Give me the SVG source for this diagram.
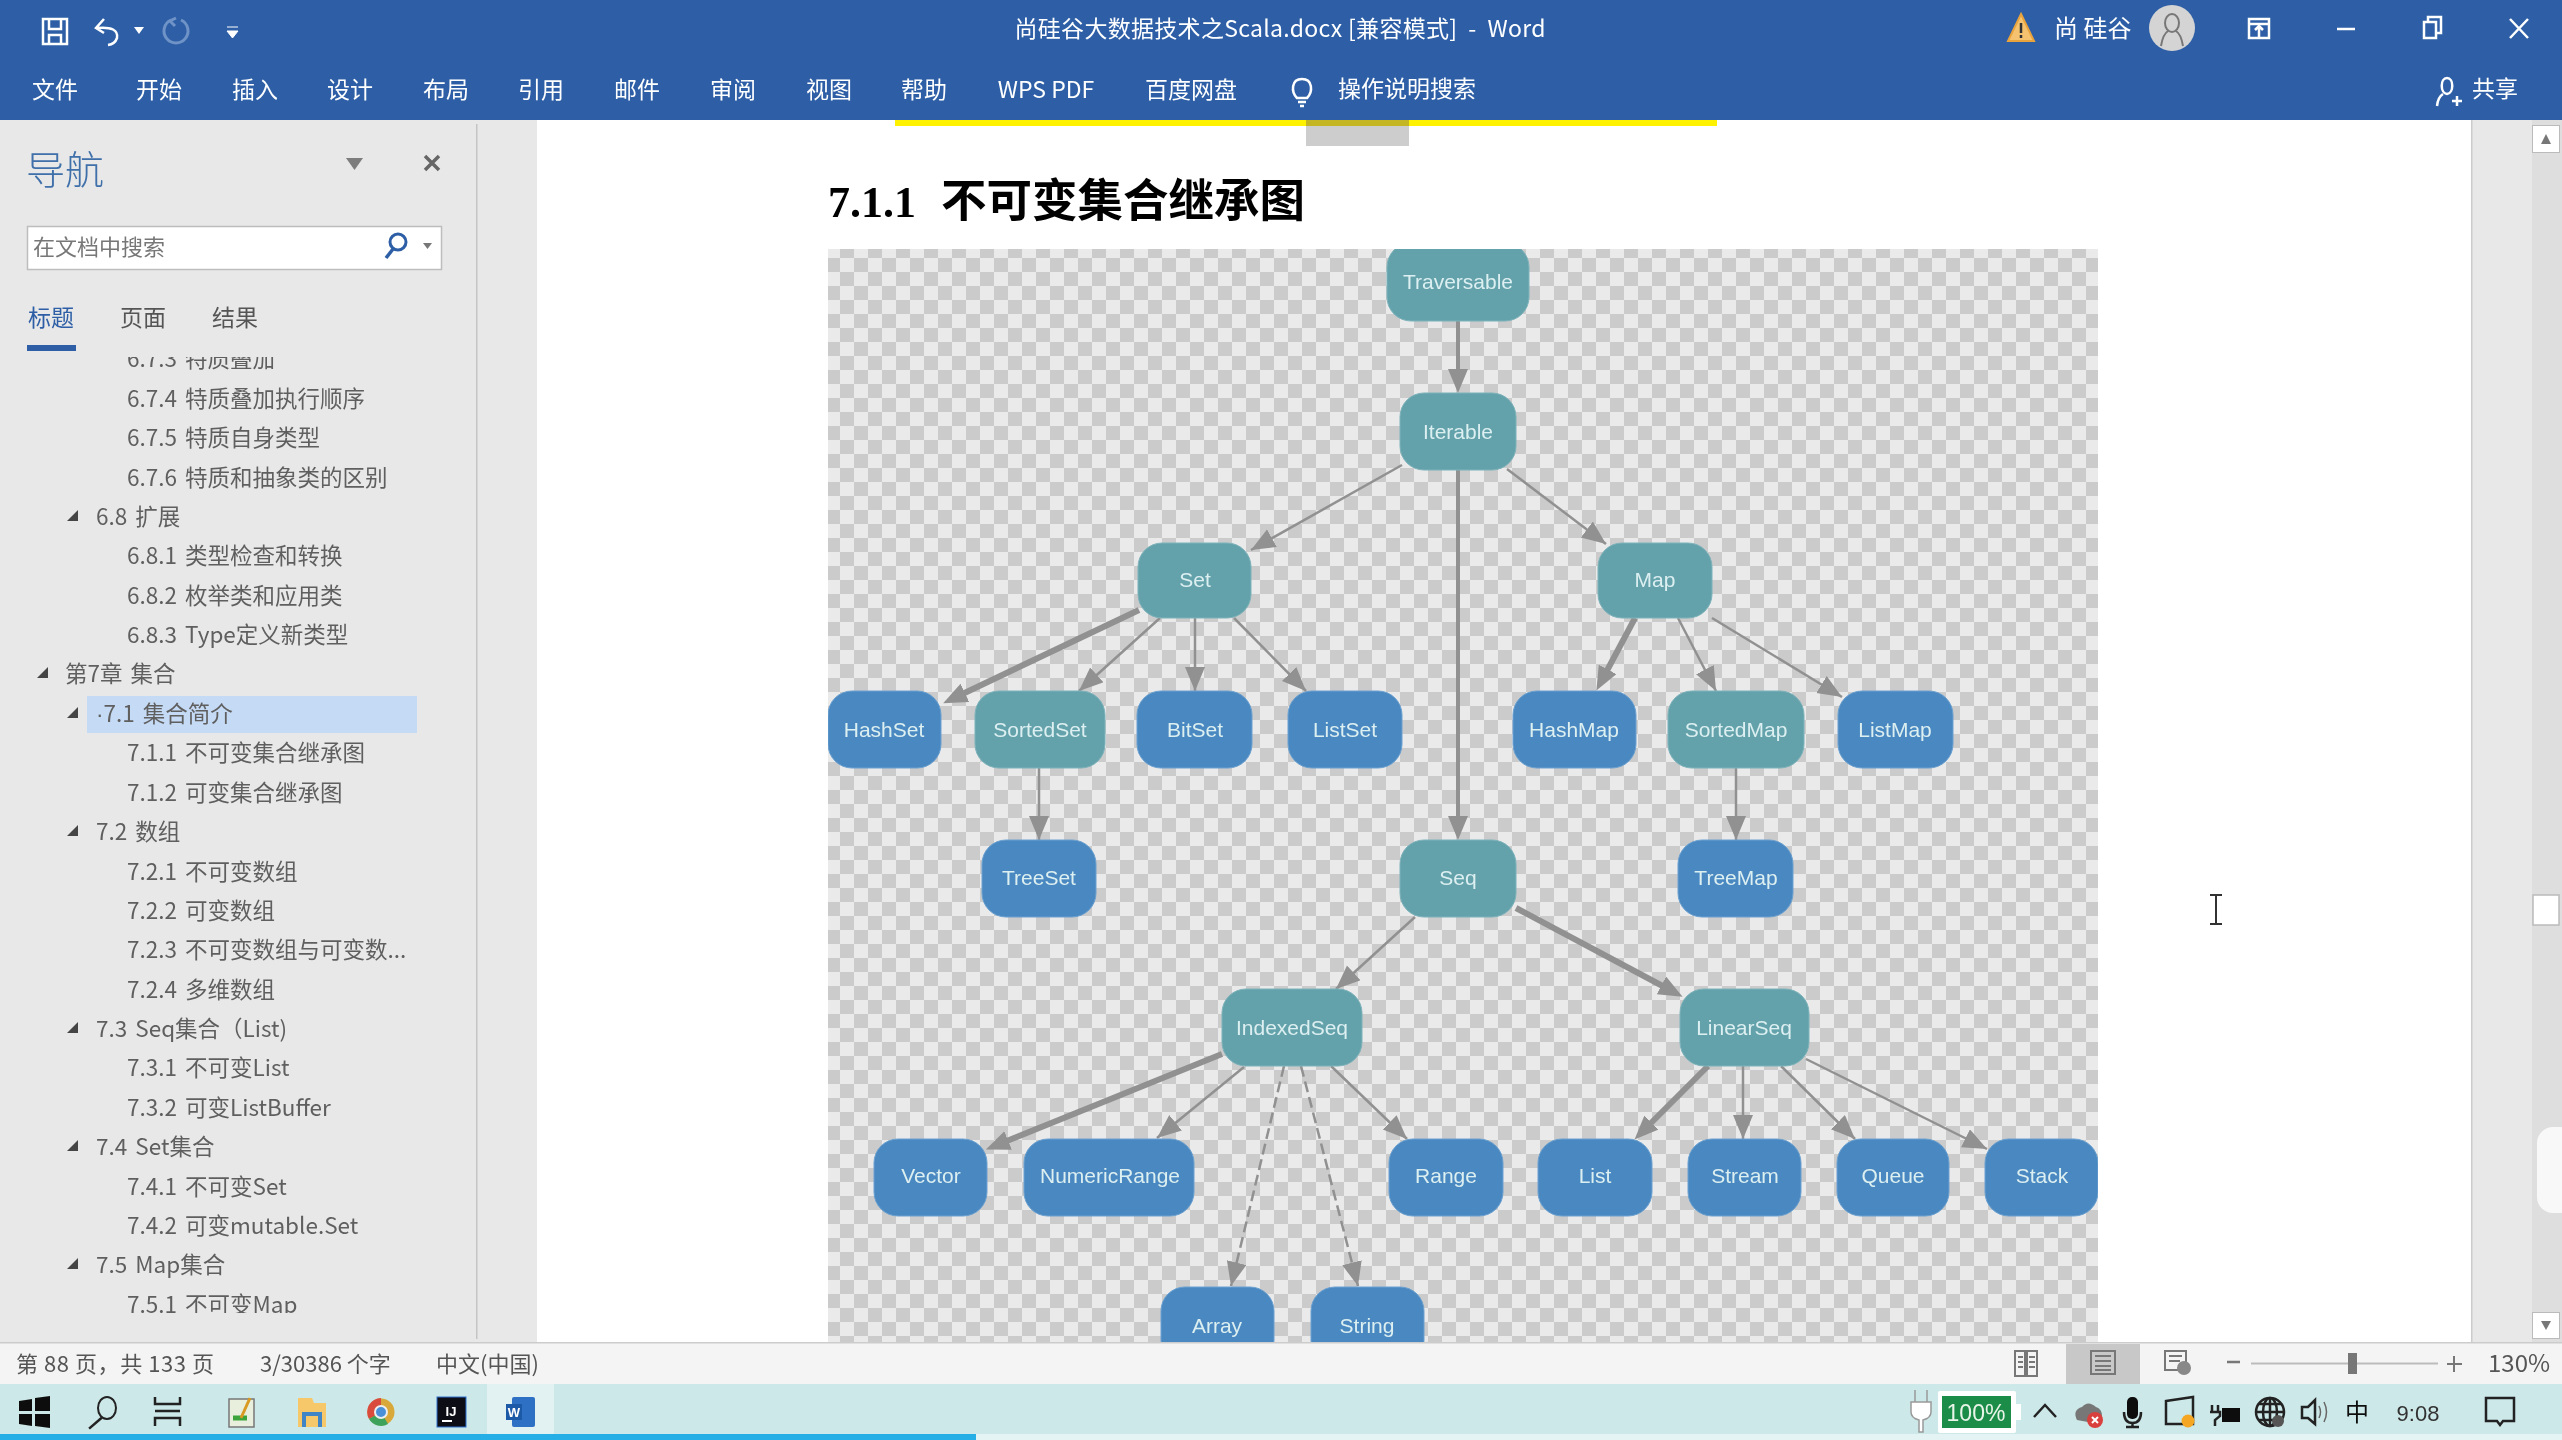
<svg xmlns="http://www.w3.org/2000/svg" width="2562" height="1440" viewBox="0 0 2562 1440">
<style>
text{font-family:"Noto Sans CJK SC","Liberation Sans",sans-serif}
.tab{fill:#fff;font-size:23px;text-anchor:middle}
.tree{fill:#5f5f5f;font-size:22.5px;word-spacing:3px}
.stat{fill:#555;font-size:22px}
.lbl{font-family:"Liberation Sans",Arial,sans-serif;font-size:21px;fill:#dceff1;text-anchor:middle}
.teal{fill:#64a2ab;stroke:#7db2ba;stroke-width:1}
.blue{fill:#4a88c0;stroke:#6aa0d0;stroke-width:1}
.e{stroke:#919191;fill:none;stroke-width:2.5}
.m{stroke-width:4}
.t{stroke-width:6}
.d{stroke-dasharray:11 5}
.w{stroke:#fff;fill:none;stroke-width:2.5}
.k{stroke:#222;fill:none;stroke-width:2.5}
.g{stroke:#777;fill:none;stroke-width:2}
</style>
<defs>
<filter id="soft" filterUnits="userSpaceOnUse" x="0" y="0" width="2562" height="1440"><feGaussianBlur stdDeviation="0.7"/></filter>
<pattern id="chk" x="826" y="258" width="28" height="28" patternUnits="userSpaceOnUse">
<rect width="28" height="28" fill="#eaeaea"/>
<rect width="14" height="14" fill="#cbcbcb"/>
<rect x="14" y="14" width="14" height="14" fill="#cbcbcb"/>
</pattern>
<clipPath id="imgclip"><rect x="828" y="249" width="1270" height="1094"/></clipPath>
<clipPath id="navclip"><rect x="0" y="357" width="476" height="956"/></clipPath>
<marker id="a" markerUnits="userSpaceOnUse" markerWidth="26" markerHeight="22" refX="24" refY="10" orient="auto"><path d="M0 0L24 10L0 20Z" fill="#919191"/></marker>
<marker id="b" markerUnits="userSpaceOnUse" markerWidth="26" markerHeight="22" refX="12" refY="10" orient="auto"><path d="M0 0L24 10L0 20Z" fill="#919191"/></marker>
</defs>
<g filter="url(#soft)">
<rect width="2562" height="1440" fill="#fff"/>
<!-- ribbon -->
<rect width="2562" height="120" fill="#2d5fa6"/>
<g id="quick-access">
<path class="w" d="M43 19H67V44H43ZM49 19V29H61V19M49 44V35H61V44" stroke-width="3"/>
<path class="w" d="M104 19L96 28L104 33M97 28Q119 26 117 38Q115 44 108 45" stroke-width="3.5"/>
<path d="M134 27H144L139 34Z" fill="#fff"/>
<path d="M171 20A12 12 0 1 0 181 20M176 18L170 21L175 26" fill="none" stroke="#6f93c7" stroke-width="3"/>
<path d="M227 27H238M227 31H238L232.500 38Z" fill="#fff" stroke="#fff" stroke-width="1"/>
</g>
<text x="1280" y="37" fill="#fff" font-size="23" text-anchor="middle" textLength="531" xml:space="preserve">尚硅谷大数据技术之Scala.docx [兼容模式]  -  Word</text>
<g id="account">
<path d="M2021 14L2034 41H2008Z" fill="#f5c36f" stroke="#e8a33d" stroke-width="2"/>
<path d="M2021 23V33M2021 35V38" stroke="#333" stroke-width="2.500"/>
<text x="2054" y="37" fill="#fff" font-size="24">尚 硅谷</text>
<circle cx="2172" cy="28" r="23" fill="#d4d4d4"/>
<ellipse cx="2172" cy="23" rx="7" ry="9" fill="none" stroke="#777" stroke-width="2"/>
<path d="M2161 46Q2163 34 2168 31M2183 46Q2181 34 2176 31" fill="none" stroke="#777" stroke-width="2"/>
</g>
<g id="window-buttons">
<path class="w" d="M2249 19H2269V38H2249ZM2249 24H2269M2259 38V27M2255 30L2259 26L2263 30" stroke-width="2"/>
<path class="w" d="M2337 29H2355"/>
<path class="w" d="M2424 22H2436V38H2424ZM2428 22V17H2441V33H2436" stroke-width="2.500"/>
<path class="w" d="M2510 19L2528 38M2528 19L2510 38"/>
</g>
<g id="tabs">
<text class="tab" x="55" y="98">文件</text>
<text class="tab" x="159" y="98">开始</text>
<text class="tab" x="255" y="98">插入</text>
<text class="tab" x="350" y="98">设计</text>
<text class="tab" x="446" y="98">布局</text>
<text class="tab" x="541" y="98">引用</text>
<text class="tab" x="637" y="98">邮件</text>
<text class="tab" x="733" y="98">审阅</text>
<text class="tab" x="829" y="98">视图</text>
<text class="tab" x="924" y="98">帮助</text>
<text class="tab" x="1046" y="98">WPS PDF</text>
<text class="tab" x="1191" y="98">百度网盘</text>
<path class="w" d="M1302 79C1291 79 1291 92 1297 98H1307C1313 92 1313 79 1302 79ZM1298 102H1306M1300 106H1304" stroke-width="2"/>
<text class="tab" x="1407" y="97">操作说明搜索</text>
<path class="w" d="M2447 78C2440 78 2440 93 2447 94C2454 93 2454 78 2447 78ZM2437 106Q2438 97 2443 94M2452 101H2462M2457 96V106" stroke-width="2"/>
<text class="tab" x="2495" y="97">共享</text>
</g>
<!-- window panes -->
<rect x="0" y="120" width="537" height="1223" fill="#e8e8e8"/>
<rect x="476" y="124" width="1.500" height="1215" fill="#c4c4c4"/>
<rect x="2471" y="120" width="61" height="1223" fill="#e8e8e8"/>
<rect x="2532" y="120" width="30" height="1223" fill="#dedede"/>
<rect x="2471" y="120" width="1.500" height="1223" fill="#ccc"/>
<rect x="895" y="120" width="822" height="6" fill="#fff200"/>
<rect x="1306" y="120" width="103" height="26" fill="#cdcdcd"/>
<rect x="1306" y="120" width="103" height="6" fill="#c4b520"/>
<!-- navigation pane -->
<g id="nav-head">
<text x="26" y="184" fill="#3f6fa9" font-size="39" font-weight="300">导航</text>
<path d="M346 158H363L354.500 170Z" fill="#7d7d7d"/>
<path d="M425 156L439 170M439 156L425 170" stroke="#666" stroke-width="3.500"/>
<rect x="27.500" y="226.500" width="414" height="43" fill="#fff" stroke="#bdbdbd" stroke-width="1.500"/>
<text x="33" y="255" fill="#777" font-size="22">在文档中搜索</text>
<circle cx="398" cy="242" r="8" fill="none" stroke="#2d5fa6" stroke-width="3"/>
<path d="M393 249L386 258" stroke="#2d5fa6" stroke-width="3.500"/>
<path d="M423 243H432L427.500 249Z" fill="#777"/>
<text x="28" y="326" fill="#2d5fa6" font-size="23">标题</text>
<text x="120" y="326" fill="#555" font-size="23">页面</text>
<text x="212" y="326" fill="#555" font-size="23">结果</text>
<rect x="27" y="345" width="49" height="6" fill="#2d5fa6"/>
</g>
<rect x="87" y="696" width="330" height="37" fill="#c5daf5"/>
<g id="nav-tree" clip-path="url(#navclip)">
<text class="tree" x="127" y="367">6.7.3 特质叠加</text>
<text class="tree" x="127" y="406.500">6.7.4 特质叠加执行顺序</text>
<text class="tree" x="127" y="446">6.7.5 特质自身类型</text>
<text class="tree" x="127" y="485.500">6.7.6 特质和抽象类的区别</text>
<text class="tree" x="96" y="525">6.8 扩展</text>
<text class="tree" x="127" y="564">6.8.1 类型检查和转换</text>
<text class="tree" x="127" y="603.500">6.8.2 枚举类和应用类</text>
<text class="tree" x="127" y="643">6.8.3 Type定义新类型</text>
<text class="tree" x="65" y="682">第7章 集合</text>
<text class="tree" x="96" y="722"><tspan style="font-family:'Liberation Sans',sans-serif">·</tspan>7.1 集合简介</text>
<text class="tree" x="127" y="761">7.1.1 不可变集合继承图</text>
<text class="tree" x="127" y="800.500">7.1.2 可变集合继承图</text>
<text class="tree" x="96" y="840">7.2 数组</text>
<text class="tree" x="127" y="879.500">7.2.1 不可变数组</text>
<text class="tree" x="127" y="919">7.2.2 可变数组</text>
<text class="tree" x="127" y="958">7.2.3 不可变数组与可变数...</text>
<text class="tree" x="127" y="997.500">7.2.4 多维数组</text>
<text class="tree" x="96" y="1037">7.3 Seq集合（List)</text>
<text class="tree" x="127" y="1076">7.3.1 不可变List</text>
<text class="tree" x="127" y="1115.500">7.3.2 可变ListBuffer</text>
<text class="tree" x="96" y="1155">7.4 Set集合</text>
<text class="tree" x="127" y="1194.500">7.4.1 不可变Set</text>
<text class="tree" x="127" y="1234">7.4.2 可变mutable.Set</text>
<text class="tree" x="96" y="1273">7.5 Map集合</text>
<text class="tree" x="127" y="1313">7.5.1 不可变Map</text>
<g fill="#444">
<path d="M78 510V521H67Z"/>
<path d="M48 667V678H37Z"/>
<path d="M78 707V718H67Z"/>
<path d="M78 825V836H67Z"/>
<path d="M78 1022V1033H67Z"/>
<path d="M78 1140V1151H67Z"/>
<path d="M78 1258V1269H67Z"/>
</g>
</g>
<!-- heading -->
<text x="828" y="217" font-size="44" font-weight="700" fill="#000" style="font-family:'Liberation Serif',serif">7.1.1</text>
<text x="941" y="217" font-size="45.500" font-weight="700" fill="#000">不可变集合继承图</text>
<!-- picture -->
<g clip-path="url(#imgclip)">
<rect x="828" y="249" width="1270" height="1094" fill="url(#chk)"/>
<g id="connectors">
<path class="e m" d="M1458 321V381" marker-end="url(#b)"/>
<path class="e m" d="M1458 470V828" marker-end="url(#b)"/>
<path class="e" d="M1402 465L1251 550" marker-end="url(#a)"/>
<path class="e" d="M1507 469L1606 544" marker-end="url(#a)"/>
<path class="e t" d="M1139 610L954 698" marker-end="url(#b)"/>
<path class="e" d="M1160 618L1079 691" marker-end="url(#a)"/>
<path class="e" d="M1195 618V691" marker-end="url(#a)"/>
<path class="e" d="M1234 618L1306 691" marker-end="url(#a)"/>
<path class="e t" d="M1635 618L1602 680" marker-end="url(#b)"/>
<path class="e" d="M1678 618L1716 691" marker-end="url(#a)"/>
<path class="e" d="M1712 618L1842 697" marker-end="url(#a)"/>
<path class="e" d="M1039 768V840" marker-end="url(#a)"/>
<path class="e" d="M1736 768V840" marker-end="url(#a)"/>
<path class="e" d="M1415 917L1336 989" marker-end="url(#a)"/>
<path class="e t" d="M1516 908L1672 991" marker-end="url(#b)"/>
<path class="e t" d="M1222 1054L997 1145" marker-end="url(#b)"/>
<path class="e" d="M1244 1067L1157 1138" marker-end="url(#a)"/>
<path class="e" d="M1331 1066L1407 1139" marker-end="url(#a)"/>
<path class="e d" d="M1284 1066L1231 1286" marker-end="url(#a)"/>
<path class="e d" d="M1301 1066L1358 1286" marker-end="url(#a)"/>
<path class="e t" d="M1708 1066L1643 1131" marker-end="url(#b)"/>
<path class="e" d="M1743 1066V1139" marker-end="url(#a)"/>
<path class="e" d="M1781 1066L1855 1139" marker-end="url(#a)"/>
<path class="e" d="M1806 1059L1987 1149" marker-end="url(#a)"/>
</g>
<g id="Traversable"><rect class="teal" x="1387" y="243" width="142" height="78" rx="24"/><text class="lbl" x="1458" y="289">Traversable</text></g>
<g id="Iterable"><rect class="teal" x="1400" y="393" width="116" height="77" rx="24"/><text class="lbl" x="1458" y="439">Iterable</text></g>
<g id="Set"><rect class="teal" x="1138" y="543" width="113" height="75" rx="24"/><text class="lbl" x="1195" y="587">Set</text></g>
<g id="Map"><rect class="teal" x="1598" y="543" width="114" height="75" rx="24"/><text class="lbl" x="1655" y="587">Map</text></g>
<g id="HashSet"><rect class="blue" x="828" y="691" width="113" height="77" rx="24"/><text class="lbl" x="884" y="737">HashSet</text></g>
<g id="SortedSet"><rect class="teal" x="975" y="691" width="130" height="77" rx="24"/><text class="lbl" x="1040" y="737">SortedSet</text></g>
<g id="BitSet"><rect class="blue" x="1137" y="691" width="115" height="77" rx="24"/><text class="lbl" x="1195" y="737">BitSet</text></g>
<g id="ListSet"><rect class="blue" x="1288" y="691" width="114" height="77" rx="24"/><text class="lbl" x="1345" y="737">ListSet</text></g>
<g id="HashMap"><rect class="blue" x="1513" y="691" width="123" height="77" rx="24"/><text class="lbl" x="1574" y="737">HashMap</text></g>
<g id="SortedMap"><rect class="teal" x="1668" y="691" width="136" height="77" rx="24"/><text class="lbl" x="1736" y="737">SortedMap</text></g>
<g id="ListMap"><rect class="blue" x="1838" y="691" width="115" height="77" rx="24"/><text class="lbl" x="1895" y="737">ListMap</text></g>
<g id="TreeSet"><rect class="blue" x="982" y="840" width="114" height="77" rx="24"/><text class="lbl" x="1039" y="885">TreeSet</text></g>
<g id="Seq"><rect class="teal" x="1400" y="840" width="116" height="77" rx="24"/><text class="lbl" x="1458" y="885">Seq</text></g>
<g id="TreeMap"><rect class="blue" x="1678" y="840" width="115" height="77" rx="24"/><text class="lbl" x="1736" y="885">TreeMap</text></g>
<g id="IndexedSeq"><rect class="teal" x="1222" y="989" width="140" height="77" rx="24"/><text class="lbl" x="1292" y="1035">IndexedSeq</text></g>
<g id="LinearSeq"><rect class="teal" x="1680" y="989" width="129" height="77" rx="24"/><text class="lbl" x="1744" y="1035">LinearSeq</text></g>
<g id="Vector"><rect class="blue" x="874" y="1139" width="113" height="77" rx="24"/><text class="lbl" x="931" y="1183">Vector</text></g>
<g id="NumericRange"><rect class="blue" x="1024" y="1139" width="170" height="77" rx="24"/><text class="lbl" x="1110" y="1183">NumericRange</text></g>
<g id="Range"><rect class="blue" x="1389" y="1139" width="114" height="77" rx="24"/><text class="lbl" x="1446" y="1183">Range</text></g>
<g id="List"><rect class="blue" x="1538" y="1139" width="114" height="77" rx="24"/><text class="lbl" x="1595" y="1183">List</text></g>
<g id="Stream"><rect class="blue" x="1688" y="1139" width="113" height="77" rx="24"/><text class="lbl" x="1745" y="1183">Stream</text></g>
<g id="Queue"><rect class="blue" x="1837" y="1139" width="112" height="77" rx="24"/><text class="lbl" x="1893" y="1183">Queue</text></g>
<g id="Stack"><rect class="blue" x="1985" y="1139" width="113" height="77" rx="24"/><text class="lbl" x="2042" y="1183">Stack</text></g>
<g id="Array"><rect class="blue" x="1161" y="1287" width="113" height="77" rx="24"/><text class="lbl" x="1217" y="1333">Array</text></g>
<g id="String"><rect class="blue" x="1311" y="1287" width="113" height="77" rx="24"/><text class="lbl" x="1367" y="1333">String</text></g>
</g>
<!-- scrollbar and cursor -->
<g id="scrollbar">
<rect x="2532.500" y="125.500" width="27" height="27" fill="#fff" stroke="#bbb"/>
<path d="M2541 144H2551L2546 134Z" fill="#777"/>
<rect x="2532.500" y="1312.500" width="27" height="26" fill="#fff" stroke="#bbb"/>
<path d="M2541 1321H2551L2546 1330Z" fill="#777"/>
<rect x="2533" y="895" width="26" height="30" fill="#fff" stroke="#bbb" stroke-width="1.500"/>
<rect x="2537" y="1127" width="40" height="86" rx="16" fill="#f8f8f8"/>
</g>
<path d="M2210 895H2222M2216 895V924M2210 924H2222" stroke="#333" stroke-width="2" fill="none"/>
<!-- status bar -->
<rect x="0" y="1343" width="2562" height="41" fill="#f4f4f4"/>
<rect x="0" y="1342" width="2562" height="1.500" fill="#ccc"/>
<g id="status">
<text class="stat" x="16" y="1372" textLength="198">第 88 页，共 133 页</text>
<text class="stat" x="260" y="1372">3/30386 个字</text>
<text class="stat" x="436" y="1372">中文(中国)</text>
<rect x="2066" y="1344" width="74" height="40" fill="#c8c8c8"/>
<path class="g" d="M2015 1351H2025V1376H2015ZM2027 1351H2037V1376H2027ZM2018 1357H2023M2018 1362H2023M2018 1367H2023M2029 1357H2035M2029 1362H2035M2029 1367H2035"/>
<path class="g" d="M2091 1351H2115V1374H2091ZM2095 1356H2111M2095 1361H2111M2095 1366H2111M2095 1370H2111"/>
<path class="g" d="M2165 1351H2186V1370H2165ZM2169 1356H2182M2169 1361H2180"/>
<circle cx="2184" cy="1368" r="7" fill="#888"/>
<path d="M2227 1362H2240" stroke="#777" stroke-width="2.500"/>
<path d="M2251 1363.500H2438" stroke="#bbb" stroke-width="2"/>
<rect x="2348" y="1353" width="9" height="21" fill="#777"/>
<path d="M2454 1356V1372M2447 1364H2462" stroke="#777" stroke-width="2"/>
<text x="2488" y="1372" fill="#555" font-size="24">130%</text>
</g>
<!-- taskbar -->
<rect x="0" y="1384" width="2562" height="56" fill="#cde8e8"/>
<rect x="487" y="1384" width="67" height="50" fill="#e2f2f2"/>
<rect x="0" y="1434" width="976" height="6" fill="#26aee6"/>
<rect x="976" y="1434" width="1586" height="6" fill="#e4f3f3"/>
<g id="taskbar-apps">
<path d="M19 1401L32 1399V1411H19ZM35 1398L50 1396V1411H35ZM19 1414H32V1426L19 1424ZM35 1414H50V1428L35 1426Z" fill="#111"/>
<ellipse cx="107" cy="1408" rx="9" ry="11" fill="none" stroke="#222" stroke-width="2"/>
<path d="M102 1418L88 1427" class="k" transform="rotate(-8 100 1420)"/>
<path class="k" d="M155 1397V1404H180V1397M155 1426V1418H180V1426M155 1411H180" stroke-width="2"/>
<path d="M229 1399H254V1427H229Z" fill="#e8efdc" stroke="#777" stroke-width="1.500"/>
<path d="M233 1418H247" stroke="#3aa53a" stroke-width="5"/>
<path d="M250 1398L241 1418" stroke="#d89a20" stroke-width="3"/>
<path d="M298 1398H312L314 1403H326V1427H298Z" fill="#f7c86a"/>
<path d="M304 1427V1414H320V1427" fill="none" stroke="#3f86c6" stroke-width="4"/>
<circle cx="381" cy="1412" r="13.500" fill="#d9a83a"/>
<path d="M381 1398A14 14 0 0 0 369 1419L381 1412Z" fill="#d94b3d"/>
<path d="M369 1419A14 14 0 0 0 388 1424L381 1412Z" fill="#3da35a"/>
<circle cx="381" cy="1412" r="6" fill="#4a90d9" stroke="#eee" stroke-width="2"/>
<rect x="437" y="1397" width="29" height="30" fill="#0a0a14" stroke="#2a6fd0"/>
<text x="451" y="1416" fill="#fff" font-size="13" font-weight="700" text-anchor="middle" style="font-family:'Liberation Sans',sans-serif">IJ</text>
<path d="M442 1421H452" stroke="#fff" stroke-width="2"/>
<rect x="512" y="1397" width="23" height="30" rx="2" fill="#2f6fc4"/>
<rect x="506" y="1404" width="16" height="16" fill="#1f5aa8"/>
<text x="514" y="1417" fill="#fff" font-size="13" font-weight="700" text-anchor="middle" style="font-family:'Liberation Sans',sans-serif">W</text>
</g>
<g id="tray">
<path d="M1915 1390V1402M1927 1390V1402M1911 1402H1931V1412Q1931 1418 1923 1420V1432H1919V1420Q1911 1418 1911 1412Z" fill="#fff" stroke="#999" stroke-width="1.500"/>
<rect x="1938" y="1391" width="78" height="42" rx="2" fill="#fff"/>
<rect x="2016" y="1404" width="5" height="16" fill="#fff"/>
<rect x="1942" y="1396" width="69" height="32" fill="#1e8c4a"/>
<text x="1976" y="1421" fill="#e8f5e8" font-size="23" text-anchor="middle" style="font-family:'Liberation Sans',sans-serif">100%</text>
<path class="k" d="M2034 1417L2045 1405L2056 1417"/>
<path d="M2077 1420Q2072 1410 2082 1407Q2088 1400 2096 1407Q2102 1409 2102 1416L2088 1422Z" fill="#777"/>
<circle cx="2095" cy="1420" r="8" fill="#d9413c"/>
<path d="M2092 1417L2098 1423M2098 1417L2092 1423" stroke="#fff" stroke-width="2"/>
<rect x="2127" y="1397" width="11" height="22" rx="5" fill="#111"/>
<path class="k" d="M2124 1412Q2124 1423 2132.500 1423Q2141 1423 2141 1412M2132.500 1423V1427M2126 1427H2139" stroke-width="2"/>
<path class="k" d="M2166 1401L2193 1397V1424H2166Z" stroke-width="2"/>
<circle cx="2188" cy="1421" r="6.500" fill="#f5a623"/>
<path class="k" d="M2212 1405V1412M2218 1405V1412M2210 1412H2220V1416L2215 1420V1426" stroke-width="2"/>
<rect x="2222" y="1408" width="18" height="14" fill="#111"/>
<circle cx="2270" cy="1412" r="14" class="k" stroke-width="2"/>
<path class="k" d="M2270 1398V1426M2256 1412H2284M2259 1404H2281M2259 1420H2281" stroke-width="1.500"/>
<ellipse cx="2270" cy="1412" rx="7" ry="14" class="k" stroke-width="1.500"/>
<circle cx="2278" cy="1421" r="6" fill="#555"/>
<path class="k" d="M2302 1407H2308L2315 1400V1424L2308 1418H2302Z" stroke-width="2"/>
<path d="M2319 1406Q2322 1412 2319 1418M2324 1402Q2329 1412 2324 1422" fill="none" stroke="#666" stroke-width="1.500"/>
<text x="2357" y="1421" fill="#111" font-size="24" text-anchor="middle">中</text>
<text x="2418" y="1421" fill="#333" font-size="22" text-anchor="middle" style="font-family:'Liberation Sans',sans-serif">9:08</text>
<path class="k" d="M2486 1398H2514V1421H2503L2500 1425L2497 1421H2486Z"/>
</g>
</g>
</svg>
